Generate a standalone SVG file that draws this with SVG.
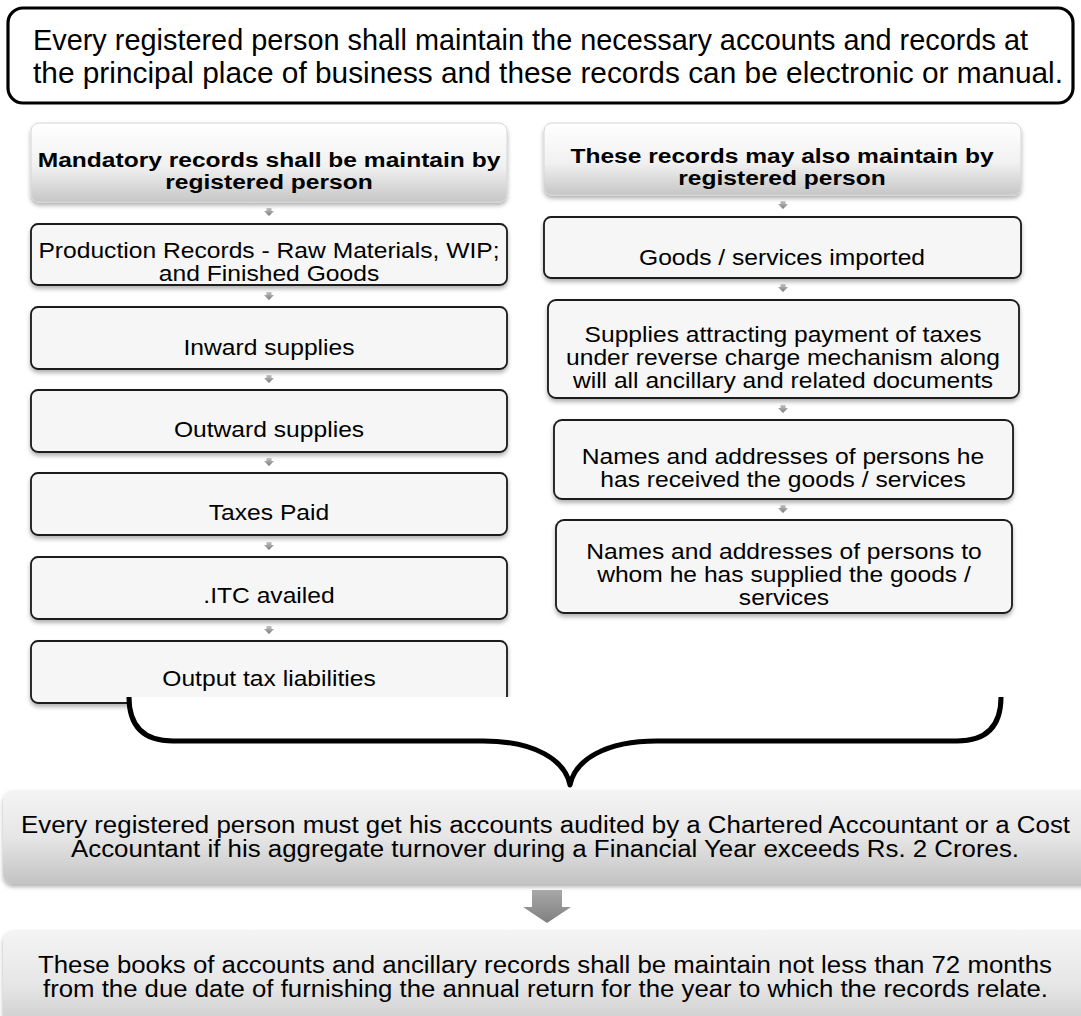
<svg xmlns="http://www.w3.org/2000/svg" width="1081" height="1016" viewBox="0 0 1081 1016">
<defs>
<style>
.t{font-family:"Liberation Sans",Arial,sans-serif;fill:#000}
.mid{font-size:22px;text-anchor:middle}
.hd{font-size:21px;text-anchor:middle;font-weight:bold}
.big{font-size:30px}
.bot{font-size:23.5px}
.box{fill:#f6f6f6;stroke:#1a1a1a;stroke-width:1.8}
.hdr{fill:url(#gh);stroke:#d6d6d6;stroke-width:1}
.sa{fill:url(#ga)}
</style>
<linearGradient id="gh" x1="0" y1="0" x2="0" y2="1">
<stop offset="0" stop-color="#ffffff"/>
<stop offset="0.55" stop-color="#f1f1f1"/>
<stop offset="1" stop-color="#c6c6c6"/>
</linearGradient>
<linearGradient id="gb" x1="0" y1="0" x2="0" y2="1">
<stop offset="0" stop-color="#f4f4f4"/>
<stop offset="0.5" stop-color="#e6e6e6"/>
<stop offset="1" stop-color="#c3c3c3"/>
</linearGradient>
<linearGradient id="ga" x1="0" y1="0" x2="0" y2="1">
<stop offset="0" stop-color="#c4c4c4"/>
<stop offset="1" stop-color="#7a7a7a"/>
</linearGradient>
<linearGradient id="gA" x1="0" y1="0" x2="0" y2="1">
<stop offset="0" stop-color="#a8a8a8"/>
<stop offset="1" stop-color="#808080"/>
</linearGradient>
<filter id="sh" x="-5%" y="-10%" width="110%" height="135%">
<feDropShadow dx="0" dy="3" stdDeviation="2" flood-color="#000" flood-opacity="0.3"/>
</filter>
<path id="sarrow" d="M-2.5,-4 h5 v3 h2.5 l-5,5 l-5,-5 h2.5 z"/>
</defs>
<rect width="1081" height="1016" fill="#fff"/>

<g id="top-note">
<rect x="8" y="8" width="1065" height="95" rx="15" fill="#fff" stroke="#000" stroke-width="3.2"/>
<text class="t big" x="33" y="50" textLength="995" lengthAdjust="spacingAndGlyphs">Every registered person shall maintain the necessary accounts and records at</text>
<text class="t big" x="33" y="83" textLength="1030" lengthAdjust="spacingAndGlyphs">the principal place of business and these records can be electronic or manual.</text>
</g>

<g id="left-header">
<rect class="hdr" x="31" y="123" width="476" height="79" rx="8" filter="url(#sh)"/>
<g transform="translate(269 0) scale(1.17 1)"><text class="t hd" x="0" y="167">Mandatory records shall be maintain by</text><text class="t hd" x="0" y="189">registered person</text></g>
</g>
<g id="production">
<rect class="box" x="31" y="224" width="476" height="61" rx="7" filter="url(#sh)"/>
<g transform="translate(269 0) scale(1.12 1)"><text class="t mid" x="0" y="258">Production Records - Raw Materials, WIP;</text><text class="t mid" x="0" y="281">and Finished Goods</text></g>
</g>
<g id="inward">
<rect class="box" x="31" y="307" width="476" height="62" rx="7" filter="url(#sh)"/>
<g transform="translate(269 0) scale(1.12 1)"><text class="t mid" x="0" y="355">Inward supplies</text></g>
</g>
<g id="outward">
<rect class="box" x="31" y="390" width="476" height="62" rx="7" filter="url(#sh)"/>
<g transform="translate(269 0) scale(1.12 1)"><text class="t mid" x="0" y="437">Outward supplies</text></g>
</g>
<g id="taxes-paid">
<rect class="box" x="31" y="473" width="476" height="62" rx="7" filter="url(#sh)"/>
<g transform="translate(269 0) scale(1.12 1)"><text class="t mid" x="0" y="520">Taxes Paid</text></g>
</g>
<g id="itc">
<rect class="box" x="31" y="557" width="476" height="62" rx="7" filter="url(#sh)"/>
<g transform="translate(269 0) scale(1.12 1)"><text class="t mid" x="0" y="603">.ITC availed</text></g>
</g>
<g id="output-tax">
<rect class="box" x="31" y="641" width="476" height="62" rx="7" filter="url(#sh)"/>
<g transform="translate(269 0) scale(1.12 1)"><text class="t mid" x="0" y="686">Output tax liabilities</text></g>
</g>

<g id="right-header">
<rect class="hdr" x="544" y="123" width="477" height="72" rx="8" filter="url(#sh)"/>
<g transform="translate(782 0) scale(1.17 1)"><text class="t hd" x="0" y="163">These records may also maintain by</text><text class="t hd" x="0" y="185">registered person</text></g>
</g>
<g id="imported">
<rect class="box" x="544" y="217" width="477" height="61" rx="7" filter="url(#sh)"/>
<g transform="translate(782 0) scale(1.12 1)"><text class="t mid" x="0" y="265">Goods / services imported</text></g>
</g>
<g id="reverse-charge">
<rect class="box" x="548" y="300" width="471" height="98" rx="8" filter="url(#sh)"/>
<g transform="translate(783 0) scale(1.12 1)"><text class="t mid" x="0" y="342">Supplies attracting payment of taxes</text><text class="t mid" x="0" y="365">under reverse charge mechanism along</text><text class="t mid" x="0" y="388">will all ancillary and related documents</text></g>
</g>
<g id="received-from">
<rect class="box" x="554" y="420" width="459" height="79" rx="8" filter="url(#sh)"/>
<g transform="translate(783 0) scale(1.12 1)"><text class="t mid" x="0" y="464">Names and addresses of persons he</text><text class="t mid" x="0" y="487">has received the goods / services</text></g>
</g>
<g id="supplied-to">
<rect class="box" x="556" y="520" width="456" height="93" rx="8" filter="url(#sh)"/>
<g transform="translate(784 0) scale(1.12 1)"><text class="t mid" x="0" y="559">Names and addresses of persons to</text><text class="t mid" x="0" y="582">whom he has supplied the goods /</text><text class="t mid" x="0" y="605">services</text></g>
</g>

<g id="audit">
<rect x="3" y="790" width="1100" height="94" rx="10" fill="url(#gb)" filter="url(#sh)"/>
<text class="t bot" x="21" y="833" textLength="1049" lengthAdjust="spacingAndGlyphs">Every registered person must get his accounts audited by a Chartered Accountant or a Cost</text>
<text class="t bot" x="71" y="857" textLength="948" lengthAdjust="spacingAndGlyphs">Accountant if his aggregate turnover during a Financial Year exceeds Rs. 2 Crores.</text>
</g>
<g id="retention">
<rect x="3" y="930" width="1100" height="110" rx="10" fill="url(#gb)" filter="url(#sh)"/>
<text class="t bot" x="38" y="973" textLength="1014" lengthAdjust="spacingAndGlyphs">These books of accounts and ancillary records shall be maintain not less than 72 months</text>
<text class="t bot" x="43" y="997" textLength="1005" lengthAdjust="spacingAndGlyphs">from the due date of furnishing the annual return for the year to which the records relate.</text>
</g>

<g id="connectors">
<use href="#sarrow" class="sa" x="269" y="212"/>
<use href="#sarrow" class="sa" x="269" y="296"/>
<use href="#sarrow" class="sa" x="269" y="379"/>
<use href="#sarrow" class="sa" x="269" y="462"/>
<use href="#sarrow" class="sa" x="269" y="546"/>
<use href="#sarrow" class="sa" x="269" y="630"/>
<use href="#sarrow" class="sa" x="783" y="205"/>
<use href="#sarrow" class="sa" x="783" y="288"/>
<use href="#sarrow" class="sa" x="783" y="409"/>
<use href="#sarrow" class="sa" x="783" y="509"/>
<path d="M129,697 Q129,741 173,741 L483,741 C535,741 565,760 570,785 C575,760 605,741 657,741 L957,741 Q1001,741 1001,697" fill="#fff" stroke="#000" stroke-width="5" stroke-linejoin="round"/>
<path d="M532,890 H562 V907 H571 L547,923 L523,907 H532 Z" fill="url(#gA)"/>
</g>
</svg>
